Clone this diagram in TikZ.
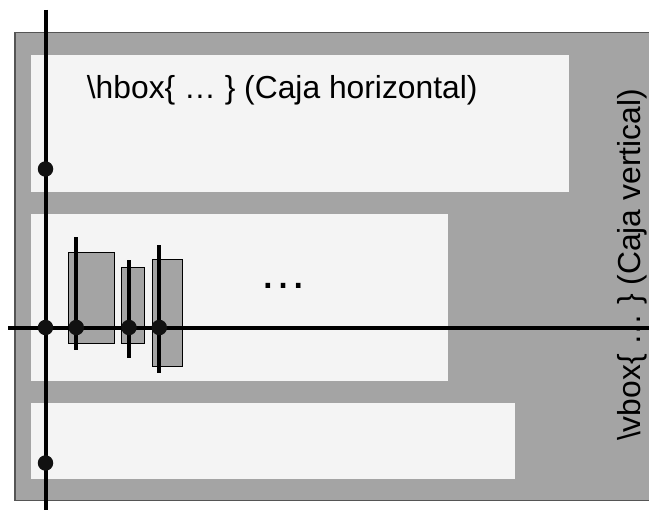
\documentclass[tikz,border=0pt]{standalone}
\usepackage{fontspec}
\setmainfont{Liberation Sans}
\definecolor{outergray}{HTML}{A4A4A4}
\definecolor{lightbox}{HTML}{F4F4F4}
\definecolor{edgegray}{HTML}{555555}
\definecolor{dotblack}{HTML}{111111}
\begin{document}
\begin{tikzpicture}[x=1pt,y=-1pt,
  outerbox/.style={draw=edgegray, line width=1.5pt, fill=outergray},
  rowbox/.style={fill=lightbox, draw=none, inner sep=0pt, anchor=north west},
  charbox/.style={fill=outergray, draw=black, line width=1pt, inner sep=0pt, anchor=north west},
  baseline line/.style={line width=4pt, draw=black},
  refdot/.style={circle, fill=dotblack, inner sep=0pt, minimum size=15.5pt},
  label/.style={inner sep=0pt, font=\fontsize{31.8}{38}\selectfont}]
\useasboundingbox (0,0) rectangle (649,511);
\clip (0,0) rectangle (649,511);
\fill[white] (0,0) rectangle (649,511);
% outer vertical box
\draw[outerbox] (15,32.5) rectangle (660,500.7);
% rows
\node[rowbox, minimum width=538pt, minimum height=136.7pt] (row1) at (31,55) {};
\node[rowbox, minimum width=416.7pt, minimum height=167pt] (row2) at (31,214) {};
\node[rowbox, minimum width=484pt, minimum height=76pt] (row3) at (31,402.7) {};
% character boxes
\node[charbox, minimum width=46pt, minimum height=91pt] (chA) at (68.3,252.3) {};
\node[charbox, minimum width=23pt, minimum height=76pt] (chB) at (121.3,267.3) {};
\node[charbox, minimum width=30.6pt, minimum height=106.4pt] (chC) at (151.7,259.3) {};
% texts
\node[label, anchor=base west] (htext) at (86.7,98.3) {\textbackslash hbox\{ … \} (Caja horizontal)};
\node[inner sep=0pt, anchor=base, font=\fontsize{48}{56}\selectfont] (dots) at (283.7,288.5) {…};
\node[label, rotate=90, anchor=base] (vtext) at (640,265) {\textbackslash vbox\{ … \} (Caja vertical)};
% coordinates for line ends
\coordinate (vtop) at (45.5,10);
\coordinate (vbot) at (45.5,510);
\coordinate (hleft) at (8.3,327.5);
\coordinate (hright) at (649,327.5);
\coordinate (aT) at (76.3,237.3); \coordinate (aB) at (76.3,350.3);
\coordinate (bT) at (129,260); \coordinate (bB) at (129,358);
\coordinate (cT) at (159.3,245); \coordinate (cB) at (159.3,373);
% character baselines (vertical)
\draw[baseline line] (aT) -- (aB);
\draw[baseline line] (bT) -- (bB);
\draw[baseline line] (cT) -- (cB);
% main lines
\draw[baseline line] (vtop) -- (vbot);
\draw[baseline line] (hleft) -- (hright);
% reference points
\node[refdot] (d1) at (45.5,169) {};
\node[refdot] (d2) at (45.5,327.5) {};
\node[refdot] (d3) at (76.3,327.5) {};
\node[refdot] (d4) at (129,327.5) {};
\node[refdot] (d5) at (159.3,327.5) {};
\node[refdot] (d6) at (45.5,463) {};
\end{tikzpicture}
\end{document}
